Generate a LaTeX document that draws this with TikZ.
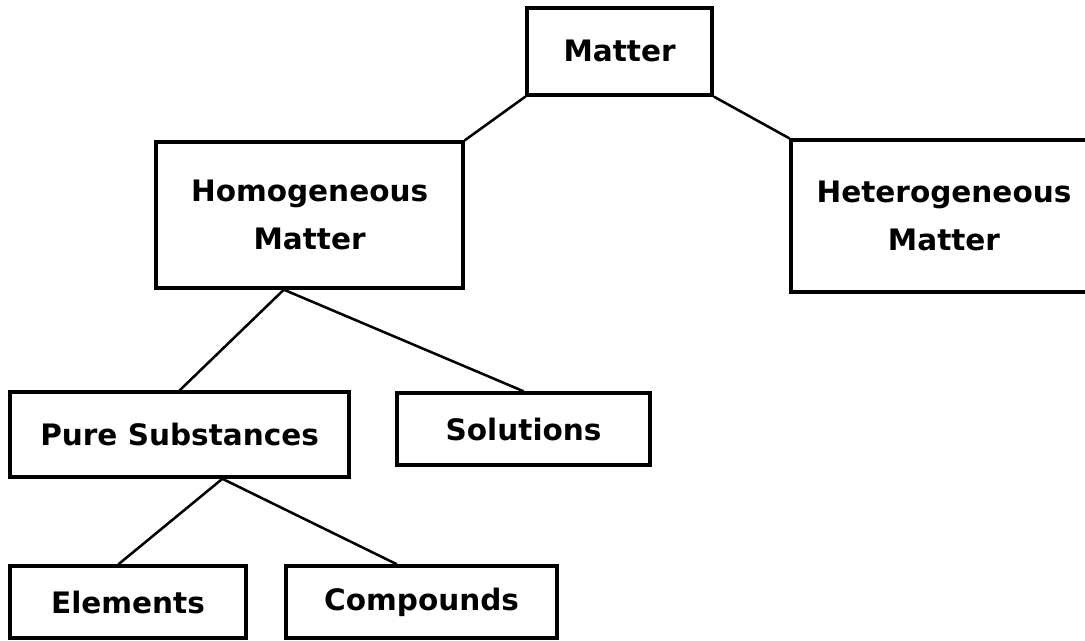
\documentclass[tikz,border=0pt]{standalone}
\usepackage{fontspec}
\setmainfont{DejaVu Sans}
\usetikzlibrary{calc}

\begin{document}
\begin{tikzpicture}[
  box/.style={draw, line width=2.4pt, align=center, inner sep=0pt,
    font=\fontsize{21}{34}\selectfont\bfseries},
  link/.style={line width=1.8pt}]
  \useasboundingbox (0,0) rectangle (27.125,16.025);
  % draw the class boxes
  \node[box, minimum width=4.625cm, minimum height=2.175cm] (matter) at (15.49,14.74) {Matter};
  \node[box, minimum width=7.675cm, minimum height=3.65cm] (homog_matter) at (7.74,10.65) {Homogeneous\\Matter};
  \node[box, minimum width=7.65cm, minimum height=3.8cm] (hetero_matter) at (23.6,10.625) {Heterogeneous\\Matter};
  \node[box, minimum width=8.475cm, minimum height=2.125cm] (pure_subst) at (4.49,5.16) {Pure Substances};
  \node[box, minimum width=6.325cm, minimum height=1.8cm] (solutions) at (13.09,5.3) {Solutions};
  \node[box, minimum width=5.9cm, minimum height=1.8cm] (elements) at (3.2,0.975) {Elements};
  \node[box, minimum width=6.775cm, minimum height=1.8cm] (compounds) at (10.54,0.975) {Compounds};
  % fork points under the parent boxes
  \coordinate (homog_fork) at ($(homog_matter.south west)!0.417!(homog_matter.south east)$);
  \coordinate (pure_fork) at ($(pure_subst.south west)!0.625!(pure_subst.south east)$);
  % draw the links
  \draw[link] (matter.south west) -- (homog_matter.north east);
  \draw[link] (matter.south east) -- (hetero_matter.north west);
  \draw[link] (homog_fork) -- (pure_subst.north);
  \draw[link] (homog_fork) -- (solutions.north);
  \draw[link] (pure_fork) -- ($(elements.north west)!0.46!(elements.north east)$);
  \draw[link] (pure_fork) -- ($(compounds.north west)!0.41!(compounds.north east)$);
\end{tikzpicture}
\end{document}
